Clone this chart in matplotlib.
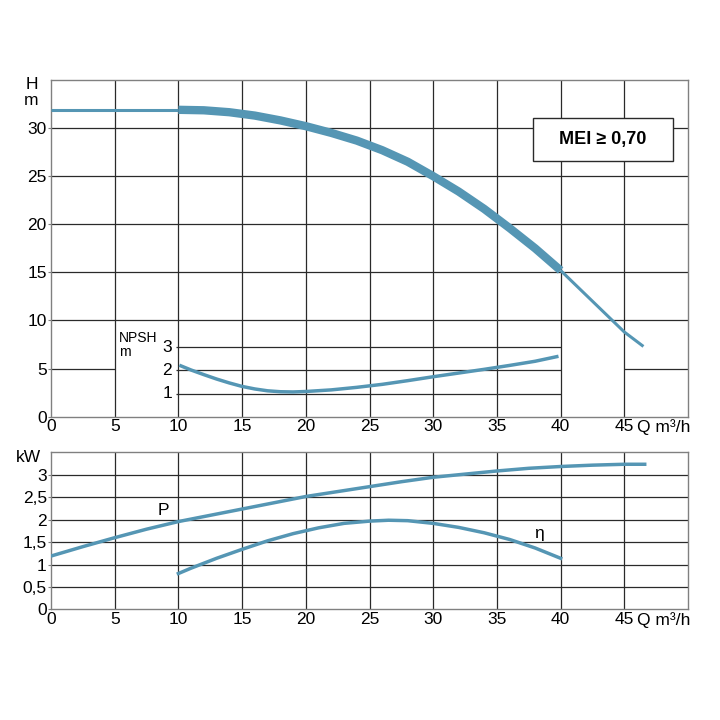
import matplotlib.pyplot as plt
import numpy as np

plt.rcParams['font.family'] = ['Liberation Sans', 'DejaVu Sans']

# flow (m3/h) and head (m)
q_head_lo = [0, 5, 10]
h_head_lo = [31.9, 31.9, 31.9]
q_head = [10, 12, 14, 16, 18, 20, 22, 24, 26, 28, 30, 32, 34, 36, 38, 40]
h_head = [31.9, 31.85, 31.65, 31.3, 30.8, 30.2, 29.5, 28.7, 27.7, 26.5, 25.0, 23.4, 21.6, 19.6, 17.5, 15.2]
q_head_hi = [40, 42.5, 45, 46.5]
h_head_hi = [15.2, 12.0, 8.8, 7.3]

# NPSH (m)
q_npsh = [10.2, 11, 12, 13, 14, 15, 16, 17, 18, 19, 20, 22, 24, 26, 28, 30, 32, 34, 36, 38, 39.7]
npsh = [2.2, 2.02, 1.82, 1.63, 1.46, 1.31, 1.2, 1.12, 1.08, 1.07, 1.09, 1.16, 1.27, 1.4, 1.56, 1.73, 1.89, 2.05, 2.22, 2.4, 2.6]
npsh_ticks = [1, 2, 3]
npsh_scale = 2.4  # H units per NPSH metre

# power (kW) and efficiency curve
q_p = [0, 2.5, 5, 7.5, 10, 12.5, 15, 17.5, 20, 22.5, 25, 27.5, 30, 32.5, 35, 37.5, 40, 42.5, 45, 46.6]
p_kw = [1.19, 1.4, 1.6, 1.79, 1.96, 2.1, 2.24, 2.38, 2.52, 2.63, 2.74, 2.85, 2.95, 3.02, 3.09, 3.15, 3.19, 3.22, 3.24, 3.24]
q_eta = [10, 11, 12, 13, 14, 15, 17, 19, 21, 23, 25, 26.5, 28, 30, 32, 34, 36, 38, 40]
eta = [0.8, 0.92, 1.03, 1.14, 1.24, 1.34, 1.53, 1.69, 1.82, 1.92, 1.97, 1.99, 1.98, 1.92, 1.83, 1.71, 1.56, 1.37, 1.14]

x_ticks = [0, 5, 10, 15, 20, 25, 30, 35, 40, 45]
h_ticks = [0, 5, 10, 15, 20, 25, 30]
kw_ticks = [0, 0.5, 1, 1.5, 2, 2.5, 3]
kw_labels = ['0', '0,5', '1', '1,5', '2', '2,5', '3']

col = '#5596b4'
gc = '#2a2a2a'
sc = '#808080'
fs = 12.5

fig = plt.figure(figsize=(7.2, 7.2), dpi=100)
ax1 = fig.add_axes([0.0708, 0.4213, 0.8848, 0.4676])
ax2 = fig.add_axes([0.0708, 0.1537, 0.8848, 0.2189])

for ax in (ax1, ax2):
    ax.set_xlim(0, 50)
    ax.set_xticks(x_ticks)
    ax.set_xticklabels([str(v) for v in x_ticks], fontsize=fs)
    ax.tick_params(axis='x', length=0, pad=2)
    ax.tick_params(axis='y', length=2, pad=1, labelsize=fs, color=sc)
    for s in ax.spines.values():
        s.set_color(sc)
        s.set_linewidth(1.0)
    ax.annotate('Q m³/h', xy=(46.0, 0), xycoords=('data', 'axes fraction'),
                xytext=(0, -2), textcoords='offset points', ha='left', va='top', fontsize=fs)

# ---- top chart: H ----
ax1.set_ylim(0, 35)
ax1.set_yticks(h_ticks)
ax1.set_yticklabels([str(v) for v in h_ticks])

lw_g = 0.9
# horizontal grid
for h in [10, 15, 20, 25, 30]:
    ax1.hlines(h, 0, 50, color=gc, lw=lw_g, zorder=1)
ax1.hlines(5, 0, 5, color=gc, lw=lw_g, zorder=1)
ax1.hlines(5, 45, 50, color=gc, lw=lw_g, zorder=1)
# vertical grid
for x in x_ticks[1:]:
    ax1.vlines(x, 0, 35, color=gc, lw=lw_g, zorder=1)
# npsh grid
for n in npsh_ticks:
    ax1.hlines(n * npsh_scale, 9.8, 40, color=gc, lw=lw_g, zorder=1)
    ax1.text(9.5, n * npsh_scale, str(n), ha='right', va='center', fontsize=fs)
ax1.text(5.35, 8.9, 'NPSH\nm', ha='left', va='top', fontsize=10, linespacing=1.0)

ax1.plot(q_head_lo, h_head_lo, color=col, lw=2.2, zorder=3, solid_capstyle='butt')
ax1.plot(q_head, h_head, color=col, lw=6, zorder=3, solid_capstyle='butt', solid_joinstyle='round')
ax1.plot(q_head_hi, h_head_hi, color=col, lw=2.2, zorder=3, solid_capstyle='butt')
ax1.plot(q_npsh, np.array(npsh) * npsh_scale, color=col, lw=2.5, zorder=3)

ax1.text(-1.0, 35.3, 'H\nm', ha='right', va='top', fontsize=fs, linespacing=1.1)

ax1.add_patch(plt.Rectangle((37.8, 26.6), 11.0, 4.5, fc='white', ec=gc, lw=1.0, zorder=4))
ax1.text(43.3, 28.85, 'MEI ≥ 0,70', ha='center', va='center', fontsize=13,
         fontweight='bold', zorder=5)

# ---- bottom chart: P and eta ----
ax2.set_ylim(0, 3.52)
ax2.set_yticks(kw_ticks)
ax2.set_yticklabels(kw_labels)
for k in kw_ticks[1:]:
    ax2.hlines(k, 0, 50, color=gc, lw=lw_g, zorder=1)
for x in x_ticks[1:]:
    ax2.vlines(x, 0, 3.52, color=gc, lw=lw_g, zorder=1)

ax2.plot(q_p, p_kw, color=col, lw=2.5, zorder=3)
ax2.plot(q_eta, eta, color=col, lw=2.5, zorder=3)
ax2.text(8.8, 2.2, 'P', ha='center', va='center', fontsize=fs)
ax2.text(38.3, 1.7, 'η', ha='center', va='center', fontsize=fs)
ax2.text(-0.8, 3.55, 'kW', ha='right', va='top', fontsize=fs)

fig.savefig('out.png', dpi=100)
